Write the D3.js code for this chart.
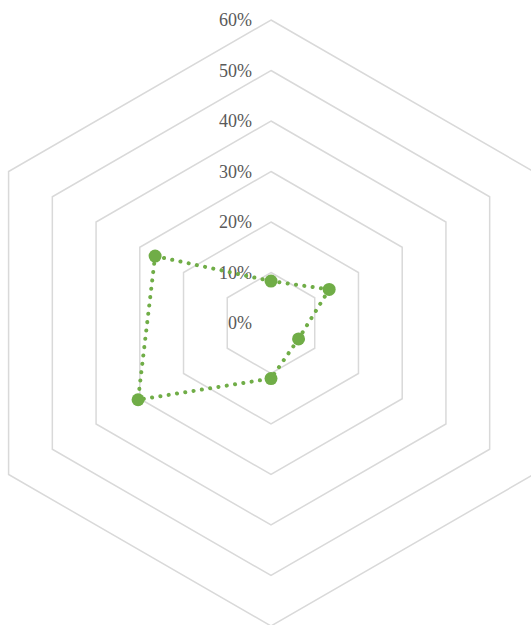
<!DOCTYPE html>
<html>
<head>
<meta charset="utf-8">
<script src="https://cdn.jsdelivr.net/npm/d3@7"></script>
<style>
  html, body { margin: 0; padding: 0; background: #ffffff; }
  svg { display: block; }
</style>
</head>
<body>
<script>
// Six spokes of the radar, clockwise from the top
const axes = ["A", "B", "C", "D", "E", "F"];
// One series, share per spoke
const seriesValues = [0.083, 0.133, 0.063, 0.11, 0.304, 0.265];
// Ring levels and their labels
const tickValues = [0, 0.1, 0.2, 0.3, 0.4, 0.5, 0.6];
const tickLabels = ["0%", "10%", "20%", "30%", "40%", "50%", "60%"];

const width = 531, height = 625;
const cx = 271, cy = 323;

const svg = d3.select("body").append("svg")
  .attr("width", width).attr("height", height);

const r = d3.scaleLinear().domain([0, 0.6]).range([0, 303]);
const angle = d3.scaleLinear().domain([0, axes.length]).range([0, 2 * Math.PI]);

const g = svg.append("g").attr("transform", `translate(${cx},${cy})`);

const pt = (i, v) => {
  const a = angle(i);
  return [r(v) * Math.sin(a), -r(v) * Math.cos(a)];
};

// Hexagonal gridlines (skip the zero ring, which collapses to a point)
const ringLine = d3.line().curve(d3.curveLinearClosed);
g.selectAll("path.ring")
  .data(tickValues.filter(v => v > 0))
  .join("path")
  .attr("class", "ring")
  .attr("d", v => ringLine(axes.map((_, i) => pt(i, v))))
  .attr("fill", "none")
  .attr("stroke", "#d9d9d9")
  .attr("stroke-width", 1.5);

// Tick labels along the top spoke
g.selectAll("text.tick")
  .data(tickValues)
  .join("text")
  .attr("class", "tick")
  .attr("x", -19)
  .attr("y", v => -r(v) + 6)
  .attr("text-anchor", "end")
  .attr("font-family", "'Liberation Serif', 'Times New Roman', serif")
  .attr("font-size", 18)
  .attr("fill", "#595959")
  .text((v, i) => tickLabels[i]);

// Series outline, round dotted
const pts = seriesValues.map((v, i) => pt(i, v));
g.append("path")
  .attr("d", ringLine(pts))
  .attr("fill", "none")
  .attr("stroke", "#70ad47")
  .attr("stroke-width", 4)
  .attr("stroke-linecap", "round")
  .attr("stroke-dasharray", "0.1 8.3");

// Markers
g.selectAll("circle.mark")
  .data(pts)
  .join("circle")
  .attr("class", "mark")
  .attr("cx", d => d[0])
  .attr("cy", d => d[1])
  .attr("r", 6.5)
  .attr("fill", "#70ad47");
</script>
</body>
</html>
